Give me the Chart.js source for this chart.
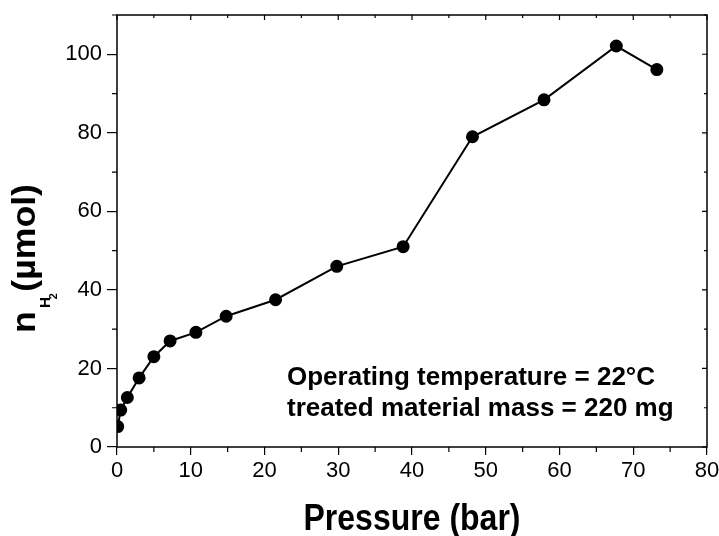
<!DOCTYPE html>
<html>
<head>
<meta charset="utf-8">
<script src="https://cdn.jsdelivr.net/npm/chart.js@4/dist/chart.umd.min.js"></script>
<style>
  html, body { margin: 0; padding: 0; background: #fff; }
  #wrap { width: 719px; height: 536px; }
</style>
</head>
<body>
<div id="wrap"><canvas id="chart" width="719" height="536"></canvas></div>
<script>
// data
const pressure = [0.1, 0.5, 1.4, 3.0, 5.0, 7.2, 10.7, 14.8, 21.5, 29.8, 38.8, 48.2, 57.9, 67.7, 73.2];
const nH2 = [5.2, 9.4, 12.6, 17.6, 23.0, 27.0, 29.2, 33.3, 37.5, 46.0, 51.0, 79.0, 88.4, 102.1, 96.1];
const xTicks = [0, 10, 20, 30, 40, 50, 60, 70, 80];
const yTicks = [0, 20, 40, 60, 80, 100];
const notes = ['Operating temperature = 22°C', 'treated material mass = 220 mg'];

const FONT = '"Liberation Sans", Arial, sans-serif';

// frame, minor ticks, inward ticks on top/right, axis titles and notes
const decorPlugin = {
    id: 'decor',
    afterDraw(chart) {
        const ctx = chart.ctx;
        const a = chart.chartArea;
        const xs = chart.scales.x, ys = chart.scales.y;
        ctx.save();
        ctx.strokeStyle = '#000';
        ctx.lineWidth = 1.5;
        ctx.strokeRect(a.left, a.top, a.right - a.left, a.bottom - a.top);

        ctx.lineWidth = 1.2;
        ctx.beginPath();
        for (let v = 0; v <= 80; v += 5) {
            const px = xs.getPixelForValue(v);
            const major = v % 10 === 0;
            if (!major) { ctx.moveTo(px, a.bottom); ctx.lineTo(px, a.bottom + 5); }
            ctx.moveTo(px, a.top); ctx.lineTo(px, a.top + (major ? 5 : 3));
        }
        for (let v = 0; v <= 110; v += 10) {
            const py = ys.getPixelForValue(v);
            const major = v % 20 === 0;
            if (!major) { ctx.moveTo(a.left, py); ctx.lineTo(a.left - 5, py); }
            ctx.moveTo(a.right, py); ctx.lineTo(a.right - (major ? 5 : 3), py);
        }
        ctx.stroke();

        ctx.fillStyle = '#000';
        // x title (slightly tall, as in the figure)
        ctx.save();
        ctx.translate(412, 530);
        ctx.scale(1, 1.15);
        ctx.font = 'bold 32px ' + FONT;
        ctx.textAlign = 'center';
        ctx.textBaseline = 'alphabetic';
        ctx.fillText('Pressure (bar)', 0, 0);
        ctx.restore();

        // y title: n with H2 subscript
        ctx.save();
        ctx.translate(35, 333);
        ctx.rotate(-Math.PI / 2);
        ctx.scale(1.08, 1);
        ctx.textAlign = 'left';
        ctx.font = 'bold 33px ' + FONT;
        ctx.fillText('n', 0, 0);
        let x = ctx.measureText('n').width + 3;
        ctx.font = 'bold 14px ' + FONT;
        ctx.fillText('H', x, 15);
        x += ctx.measureText('H').width;
        ctx.font = 'bold 10px ' + FONT;
        ctx.fillText('2', x - 2, 22);
        x += 5;
        ctx.font = 'bold 33px ' + FONT;
        ctx.fillText('(µmol)', x, 0);
        ctx.restore();

        // annotation
        ctx.font = 'bold 26px ' + FONT;
        ctx.textAlign = 'left';
        ctx.fillText(notes[0], 287, 385);
        ctx.fillText(notes[1], 287, 416);
        ctx.restore();
    }
};

new Chart(document.getElementById('chart'), {
    type: 'line',
    data: {
        datasets: [{
            data: pressure.map((p, i) => ({ x: p, y: nH2[i] })),
            borderColor: '#000',
            backgroundColor: '#000',
            borderWidth: 2,
            pointRadius: 5.5,
            pointHoverRadius: 5.5,
            tension: 0,
            fill: false
        }]
    },
    options: {
        responsive: false,
        animation: false,
        layout: { padding: { top: 15, right: 12, left: 0, bottom: 0 } },
        plugins: {
            legend: { display: false },
            tooltip: { enabled: false }
        },
        scales: {
            x: {
                type: 'linear',
                min: 0,
                max: 80,
                afterBuildTicks: (s) => { s.ticks = xTicks.map(v => ({ value: v })); },
                afterFit: (s) => { s.height = 89; s.paddingRight = 0; s.paddingLeft = 0; },
                grid: { drawOnChartArea: false, color: '#000', tickLength: 8, lineWidth: 1.2 },
                border: { display: false },
                ticks: { color: '#000', font: { family: FONT, size: 22 }, padding: 3, maxRotation: 0 }
            },
            y: {
                type: 'linear',
                min: 0,
                max: 110,
                afterBuildTicks: (s) => { s.ticks = yTicks.map(v => ({ value: v })); },
                afterFit: (s) => { s.width = 117; s.paddingTop = 0; s.paddingBottom = 0; },
                grid: { drawOnChartArea: false, color: '#000', tickLength: 10, lineWidth: 1.2 },
                border: { display: false },
                ticks: { color: '#000', font: { family: FONT, size: 22 }, padding: 5 }
            }
        }
    },
    plugins: [decorPlugin]
});
</script>
</body>
</html>
